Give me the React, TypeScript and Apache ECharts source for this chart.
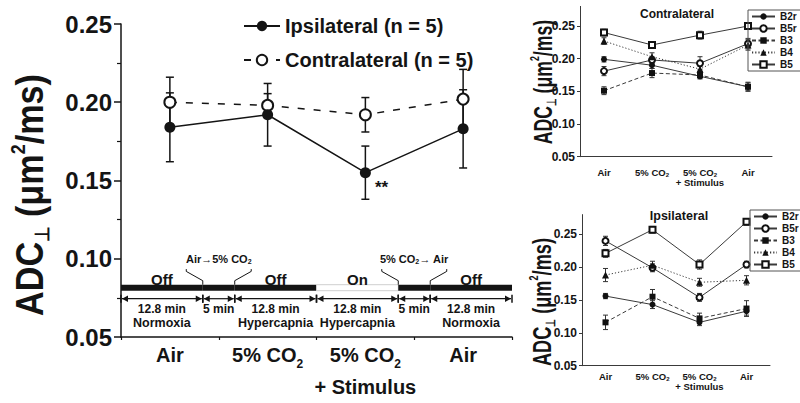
import React, { useEffect, useRef } from 'react';
import * as echarts from 'echarts';

const FONT = '"Liberation Sans", Arial, Helvetica, sans-serif';
const INK = '#141414';
const SUBINK = '#3a3a3a';

// ---------- main panel data ----------
const mainCategories = ['Air', '5% CO2', '5% CO2\n+ Stimulus', 'Air'];
const ipsilateralMean = [0.184, 0.192, 0.155, 0.183];
const ipsilateralErr = [0.022, 0.02, 0.017, 0.025];
const contralateralMean = [0.2, 0.198, 0.192, 0.202];
const contralateralErr = [0.016, 0.0075, 0.011, 0.019];

// ---------- stimulation timeline ----------
const phaseMinutes = [12.8, 5, 12.8, 12.8, 5, 12.8];
const phaseStimulus = ['Off', '', 'Off', 'On', '', 'Off'];
const phaseBarOn = [false, false, false, true, false, false];
const phaseDuration = ['12.8 min', '5 min', '12.8 min', '12.8 min', '5 min', '12.8 min'];
const phaseCondition = ['Normoxia', '', 'Hypercapnia', 'Hypercapnia', '', 'Normoxia'];
const phaseTransition = ['', 'Air\u21925% CO{s|2}', '', '', '5% CO{s|2}\u2192 Air', ''];

// ---------- individual animals ----------
const animalNames = ['B2r', 'B5r', 'B3', 'B4', 'B5'];
const contraB2r = [0.199, 0.19, 0.173, 0.157];
const contraB5r = [0.181, 0.198, 0.193, 0.223];
const contraB3 = [0.151, 0.178, 0.175, 0.157];
const contraB4 = [0.227, 0.203, 0.184, 0.221];
const contraB5 = [0.24, 0.221, 0.236, 0.25];
const contraB2rErr = [0.004, 0.005, 0.004, 0.006];
const contraB5rErr = [0.007, 0.005, 0.01, 0.008];
const contraB3Err = [0.006, 0.007, 0.005, 0.007];
const contraB4Err = [0.005, 0.006, 0.004, 0.008];
const contraB5Err = [0.005, 0.005, 0.006, 0.004];

const ipsiB2r = [0.156, 0.143, 0.116, 0.133];
const ipsiB5r = [0.24, 0.199, 0.154, 0.204];
const ipsiB3 = [0.116, 0.155, 0.122, 0.137];
const ipsiB4 = [0.188, 0.203, 0.177, 0.18];
const ipsiB5 = [0.221, 0.257, 0.204, 0.269];
const ipsiB2rErr = [0.004, 0.006, 0.005, 0.006];
const ipsiB5rErr = [0.007, 0.006, 0.006, 0.005];
const ipsiB3Err = [0.011, 0.011, 0.008, 0.012];
const ipsiB4Err = [0.01, 0.006, 0.006, 0.007];
const ipsiB5Err = [0.006, 0.005, 0.007, 0.005];
const subYTicks = [0.05, 0.1, 0.15, 0.2, 0.25];

const contraMeans = [contraB2r, contraB5r, contraB3, contraB4, contraB5];
const contraErrs = [contraB2rErr, contraB5rErr, contraB3Err, contraB4Err, contraB5Err];
const ipsiMeans = [ipsiB2r, ipsiB5r, ipsiB3, ipsiB4, ipsiB5];
const ipsiErrs = [ipsiB2rErr, ipsiB5rErr, ipsiB3Err, ipsiB4Err, ipsiB5Err];

const animalSymbols = ['circle', 'emptyCircle', 'rect', 'triangle', 'emptyRect'];
const animalSymbolSize = [6, 6, 6, 7, 6];
const animalDash: any[] = ['solid', 'solid', [4, 2.5], [1.2, 2], 'solid'];

const timelineLevel = 0.0815;

function txt(x: number, y: number, t: string, size: number, extra: any = {}) {
  return {
    type: 'text',
    x,
    y,
    style: {
      text: t,
      fill: INK,
      fontSize: size,
      fontWeight: 'bold',
      fontFamily: FONT,
      align: 'center',
      verticalAlign: 'middle',
      textAlign: 'center',
      textVerticalAlign: 'middle',
      ...extra,
    },
  };
}

function errorBarSeries(xAxisIndex: number, yAxisIndex: number, means: number[], errs: number[], capHalf: number, lineWidth: number, color: string, z: number) {
  return {
    type: 'custom',
    xAxisIndex,
    yAxisIndex,
    z,
    silent: true,
    data: means.map((m, i) => [i, m - errs[i], m + errs[i]]),
    encode: { x: 0, y: [1, 2] },
    renderItem: (_p: any, api: any) => {
      const i = api.value(0);
      const lo = api.coord([i, api.value(1)]);
      const hi = api.coord([i, api.value(2)]);
      const st = { stroke: color, lineWidth };
      return {
        type: 'group',
        children: [
          { type: 'line', shape: { x1: lo[0], y1: lo[1], x2: hi[0], y2: hi[1] }, style: st },
          { type: 'line', shape: { x1: lo[0] - capHalf, y1: lo[1], x2: lo[0] + capHalf, y2: lo[1] }, style: st },
          { type: 'line', shape: { x1: hi[0] - capHalf, y1: hi[1], x2: hi[0] + capHalf, y2: hi[1] }, style: st },
        ],
      };
    },
  };
}

function buildOption() {
  const phaseStart = phaseMinutes.map((_, i) => phaseMinutes.slice(0, i).reduce((a, b) => a + b, 0));
  const totalMinutes = phaseMinutes.reduce((a, b) => a + b, 0);
  const timelineData = phaseMinutes.map((m, i) => [phaseStart[i], phaseStart[i] + m]);

  const catFormatter = (v: string) => v.replace(/CO2/g, 'CO{s|2}');

  const subXAxis = (gridIndex: number, margin: number) => ({
    type: 'category',
    gridIndex,
    data: mainCategories,
    boundaryGap: true,
    axisLine: { lineStyle: { color: SUBINK, width: 1 } },
    axisTick: { alignWithLabel: true, length: 3, lineStyle: { color: SUBINK } },
    axisLabel: {
      interval: 0,
      margin,
      fontSize: 9.5,
      fontWeight: 'bold',
      color: INK,
      fontFamily: FONT,
      lineHeight: 10,
      formatter: catFormatter,
      rich: { s: { fontSize: 6, fontWeight: 'bold', fontFamily: FONT, color: INK, verticalAlign: 'bottom', lineHeight: 10, padding: [0, 0, 0, 0] } },
    },
  });

  const subYAxis = (gridIndex: number) => ({
    type: 'value',
    gridIndex,
    min: 0.05,
    max: 0.28,
    interval: 0.05,
    axisLine: { show: true, lineStyle: { color: SUBINK, width: 1 } },
    axisTick: { show: true, length: 3, customValues: subYTicks, lineStyle: { color: SUBINK } },
    axisLabel: {
      customValues: subYTicks,
      formatter: (v: number) => v.toFixed(2),
      fontSize: 12,
      fontWeight: 'bold',
      color: INK,
      fontFamily: FONT,
      margin: 5,
    },
    splitLine: { show: false },
  });

  const series: any[] = [];

  series.push(errorBarSeries(0, 0, contralateralMean, contralateralErr, 4, 1.5, INK, 2));
  series.push(errorBarSeries(0, 0, ipsilateralMean, ipsilateralErr, 4, 1.5, INK, 2));
  series.push({
    type: 'line',
    name: 'Contralateral (n = 5)',
    xAxisIndex: 0,
    yAxisIndex: 0,
    data: contralateralMean,
    symbol: 'emptyCircle',
    symbolSize: 11,
    lineStyle: { color: INK, width: 1.5, type: [7, 9] },
    itemStyle: { color: INK, borderWidth: 1.5 },
    z: 3,
  });
  series.push({
    type: 'line',
    name: 'Ipsilateral (n = 5)',
    xAxisIndex: 0,
    yAxisIndex: 0,
    data: ipsilateralMean.map((v, i) =>
      i === 2
        ? {
            value: v,
            label: { show: true, formatter: '**', position: 'right', distance: 4, offset: [0, 15], fontSize: 17, fontWeight: 'bold', color: INK, fontFamily: FONT },
          }
        : v
    ),
    symbol: 'circle',
    symbolSize: 11,
    lineStyle: { color: INK, width: 1.5 },
    itemStyle: { color: INK },
    z: 4,
  });

  // timeline
  series.push({
    type: 'custom',
    xAxisIndex: 2,
    yAxisIndex: 0,
    z: 5,
    silent: true,
    data: timelineData,
    encode: { x: [0, 1] },
    renderItem: (params: any, api: any) => {
      const i = params.dataIndex;
      const a = api.coord([api.value(0), timelineLevel]);
      const b = api.coord([api.value(1), timelineLevel]);
      const x0 = a[0];
      const x1 = b[0];
      const yb = a[1];
      const xm = (x0 + x1) / 2;
      const ya = yb + 11;
      const kids: any[] = [];
      kids.push({
        type: 'rect',
        shape: { x: x0, y: yb - 3, width: x1 - x0, height: 6 },
        style: phaseBarOn[i] ? { fill: '#fff', stroke: '#cfcfcf', lineWidth: 1 } : { fill: INK },
      });
      if (phaseStimulus[i]) kids.push(txt(xm, yb - 8.5, phaseStimulus[i], 15, { lineHeight: 14 }));
      kids.push({ type: 'line', shape: { x1: x0 + 1, y1: ya, x2: x1 - 1, y2: ya }, style: { stroke: INK, lineWidth: 1.2 } });
      kids.push({ type: 'polygon', shape: { points: [[x0 + 1, ya], [x0 + 7, ya - 3.2], [x0 + 7, ya + 3.2]] }, style: { fill: INK } });
      kids.push({ type: 'polygon', shape: { points: [[x1 - 1, ya], [x1 - 7, ya - 3.2], [x1 - 7, ya + 3.2]] }, style: { fill: INK } });
      kids.push({ type: 'line', shape: { x1: x0, y1: ya - 4, x2: x0, y2: ya + 4 }, style: { stroke: INK, lineWidth: 1.5 } });
      kids.push({ type: 'line', shape: { x1: x1, y1: ya - 4, x2: x1, y2: ya + 4 }, style: { stroke: INK, lineWidth: 1.5 } });
      kids.push(txt(xm, ya + 10, phaseDuration[i], 12, { lineHeight: 12 }));
      if (phaseCondition[i]) kids.push(txt(xm, ya + 24, phaseCondition[i], 12.5, { lineHeight: 12 }));
      if (phaseTransition[i]) {
        const yt = yb - 3;
        const ls = { stroke: INK, lineWidth: 1, fill: null };
        kids.push({ type: 'polyline', shape: { points: [[x0, yt], [x0, yt - 4], [x0 - 16.5, yt - 13.3], [x0 - 16.5, yt - 15.6]] }, style: ls });
        kids.push({ type: 'polyline', shape: { points: [[x1, yt], [x1, yt - 4], [x1 + 16.5, yt - 13.3], [x1 + 16.5, yt - 15.6]] }, style: ls });
        kids.push(
          txt(xm, yb - 28.5, phaseTransition[i], 11, {
            lineHeight: 11,
            rich: { s: { fontSize: 7, fontWeight: 'bold', fontFamily: FONT, fill: INK, verticalAlign: 'bottom', lineHeight: 11 } },
          })
        );
      }
      return { type: 'group', children: kids };
    },
  });

  const addSub = (xi: number, yi: number, means: number[][], errs: number[][]) => {
    means.forEach((m, k) => {
      series.push(errorBarSeries(xi, yi, m, errs[k], 2.5, 1, '#333', 2));
    });
    means.forEach((m, k) => {
      series.push({
        type: 'line',
        name: animalNames[k],
        xAxisIndex: xi,
        yAxisIndex: yi,
        data: m,
        symbol: animalSymbols[k],
        symbolSize: animalSymbolSize[k],
        lineStyle: { color: SUBINK, width: 1, type: animalDash[k] },
        itemStyle: { color: '#111', borderWidth: 1 },
        z: 3,
      });
    });
  };
  addSub(3, 1, contraMeans, contraErrs);
  addSub(4, 2, ipsiMeans, ipsiErrs);

  const subLegend = (left: number, top: number) => ({
    data: animalNames,
    orient: 'vertical',
    left,
    top,
    itemWidth: 23,
    itemHeight: 8,
    itemGap: 1,
    padding: [1, 20, 1, 3],
    borderColor: '#555',
    borderWidth: 1,
    selectedMode: false,
    textStyle: { fontSize: 10, fontWeight: 'bold', color: INK, fontFamily: FONT, lineHeight: 11 },
  });

  const yName = (x: number, y: number, size: number, small: number, scaleX: number) => ({
    type: 'text',
    x,
    y,
    rotation: Math.PI / 2,
    scaleX,
    style: {
      text: 'ADC{sub|\u22a5} (\u03bcm{sup|2}/ms)',
      fill: INK,
      fontSize: size,
      fontWeight: 'bold',
      fontFamily: FONT,
      lineHeight: size * 1.15,
      align: 'center',
      verticalAlign: 'middle',
      textAlign: 'center',
      textVerticalAlign: 'middle',
      rich: {
        sub: { fontSize: small, fontWeight: 'bold', fontFamily: FONT, fill: INK, verticalAlign: 'bottom', lineHeight: size * 1.15 },
        sup: { fontSize: small, fontWeight: 'bold', fontFamily: FONT, fill: INK, verticalAlign: 'top', lineHeight: size * 1.15 },
      },
    },
  });

  return {
    animation: false,
    backgroundColor: '#fff',
    textStyle: { fontFamily: FONT },
    grid: [
      { left: 121, top: 24, width: 391, height: 316 },
      { left: 580, top: 6.4, width: 192, height: 150.3 },
      { left: 582, top: 214.6, width: 188, height: 151.1 },
    ],
    xAxis: [
      {
        type: 'category',
        gridIndex: 0,
        position: 'bottom',
        data: mainCategories,
        boundaryGap: true,
        axisLine: { onZero: false, lineStyle: { color: INK, width: 1.5 } },
        axisTick: { alignWithLabel: true, length: 7, lineStyle: { color: INK, width: 1.5 } },
        axisLabel: {
          interval: 0,
          margin: 2,
          fontSize: 20,
          fontWeight: 'bold',
          color: INK,
          fontFamily: FONT,
          lineHeight: 32,
          formatter: catFormatter,
          rich: { s: { fontSize: 12, fontWeight: 'bold', fontFamily: FONT, color: INK, verticalAlign: 'bottom', lineHeight: 32, padding: [0, 0, 1, 0] } },
        },
      },
      {
        type: 'category',
        gridIndex: 0,
        position: 'bottom',
        data: mainCategories,
        boundaryGap: true,
        axisLine: { show: false, onZero: false },
        axisTick: { show: true, length: 3, lineStyle: { color: INK, width: 1.2 } },
        axisLabel: { show: false },
      },
      { type: 'value', gridIndex: 0, min: 0, max: totalMinutes, show: false },
      { ...subXAxis(1, 11) },
      { ...subXAxis(2, 6) },
    ],
    yAxis: [
      {
        type: 'value',
        gridIndex: 0,
        min: 0.05,
        max: 0.25,
        interval: 0.05,
        axisLine: { show: true, lineStyle: { color: INK, width: 1.5 } },
        axisTick: { show: true, length: 7, lineStyle: { color: INK, width: 1.5 } },
        minorTick: { show: true, splitNumber: 2, length: 4, lineStyle: { color: INK, width: 1.2 } },
        axisLabel: { formatter: (v: number) => v.toFixed(2), fontSize: 24, fontWeight: 'bold', color: INK, fontFamily: FONT, margin: 9 },
        splitLine: { show: false },
      },
      subYAxis(1),
      subYAxis(2),
    ],
    legend: [
      {
        data: ['Ipsilateral (n = 5)', 'Contralateral (n = 5)'],
        orient: 'vertical',
        left: 238,
        top: 10,
        itemWidth: 36,
        itemHeight: 13,
        itemGap: 12,
        selectedMode: false,
        textStyle: { fontSize: 20, fontWeight: 'bold', color: INK, fontFamily: FONT, lineHeight: 22 },
      },
      subLegend(748, 10),
      subLegend(750, 210),
    ],
    graphic: [
      yName(30, 195, 38, 20, 0.9),
      yName(543, 82, 26, 13, 0.68),
      yName(542, 302, 26, 13, 0.7),
      txt(677, 14, 'Contralateral', 12),
      txt(679, 216, 'Ipsilateral', 12.5),
    ],
    series,
  };
}

export default function App() {
  const ref = useRef<HTMLDivElement>(null);
  useEffect(() => {
    const chart = echarts.init(ref.current!, null, { renderer: 'svg' });
    chart.setOption(buildOption() as any);
    return () => chart.dispose();
  }, []);
  return <div ref={ref} style={{ position: 'fixed', left: 0, top: 0, width: 800, height: 403, background: '#fff' }} />;
}
